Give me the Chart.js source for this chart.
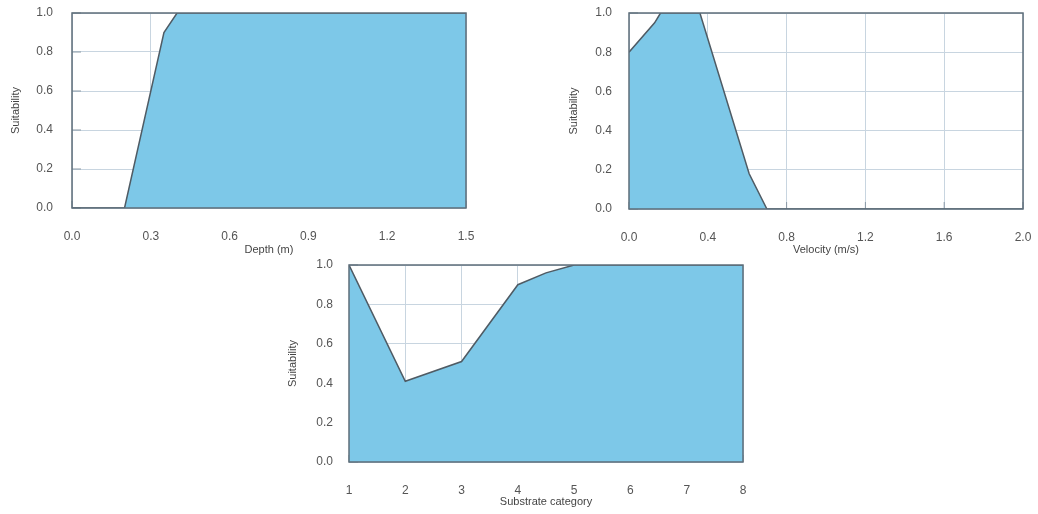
<!DOCTYPE html>
<html>
<head>
<meta charset="utf-8">
<script src="https://cdn.jsdelivr.net/npm/chart.js@4.4.0/dist/chart.umd.min.js"></script>
<style>
  body { margin: 0; background: #fff; width: 1038px; height: 514px; position: relative; overflow: hidden; }
  canvas { position: absolute; }
</style>
</head>
<body>
<canvas id="depthChart" width="480" height="262" style="left:0px;top:0px"></canvas>
<canvas id="velocityChart" width="478" height="262" style="left:560px;top:0px"></canvas>
<canvas id="substrateChart" width="480" height="264" style="left:280px;top:250px"></canvas>
<script>
// suitability curves
const depthX = [0, 0.2, 0.35, 0.4, 1.5];
const depthY = [0, 0, 0.9, 1, 1];

const velocityX = [0, 0.13, 0.16, 0.36, 0.61, 0.7, 2.0];
const velocityY = [0.8, 0.95, 1, 1, 0.18, 0, 0];

const substrateX = [1, 2, 3, 4, 4.5, 5, 8];
const substrateY = [1, 0.41, 0.51, 0.9, 0.96, 1, 1];

const yTitle = "Suitability";

Chart.defaults.font.family = "'Liberation Sans', Arial, sans-serif";
Chart.defaults.color = "#555";

const fillColor = "#7dc8e8";
const lineColor = "#4f5b64";
const gridColor = "#c8d5e0";
const frameColor = "#5e6e7a";

// box round the plot and short inner tick marks
const frame = {
  id: "frame",
  beforeDatasetsDraw(chart) {
    const { ctx, chartArea: a, scales } = chart;
    ctx.save();
    ctx.strokeStyle = "#8a99a5";
    ctx.lineWidth = 1;
    ctx.beginPath();
    scales.y.ticks.forEach(t => {
      const py = scales.y.getPixelForValue(t.value);
      ctx.moveTo(a.left, py);
      ctx.lineTo(a.left + 9, py);
    });
    scales.x.ticks.forEach(t => {
      const px = scales.x.getPixelForValue(t.value);
      ctx.moveTo(px, a.bottom);
      ctx.lineTo(px, a.bottom - 7);
    });
    ctx.stroke();
    ctx.restore();
  },
  afterDatasetsDraw(chart) {
    const { ctx, chartArea: a } = chart;
    ctx.save();
    ctx.strokeStyle = frameColor;
    ctx.lineWidth = 1.5;
    ctx.strokeRect(a.left, a.top, a.right - a.left, a.bottom - a.top);
    ctx.restore();
  }
};

function crearGrafica(id, xs, ys, cfg) {
  const puntos = xs.map((x, i) => ({ x: x, y: ys[i] }));
  return new Chart(document.getElementById(id), {
    type: "line",
    data: {
      datasets: [{
        data: puntos,
        borderColor: lineColor,
        borderWidth: 1.5,
        backgroundColor: fillColor,
        fill: "origin",
        pointRadius: 0,
        tension: 0
      }]
    },
    options: {
      responsive: false,
      animation: false,
      devicePixelRatio: 1,
      layout: { padding: cfg.padding },
      plugins: { legend: { display: false }, tooltip: { enabled: false } },
      scales: {
        x: {
          type: "linear",
          min: cfg.xMin,
          max: cfg.xMax,
          afterFit: s => { s.height = cfg.xHeight; s.paddingLeft = 0; s.paddingRight = 0; },
          afterBuildTicks: s => {
            s.ticks = [];
            for (let v = cfg.xMin; v <= cfg.xMax + 1e-9; v += cfg.xStep) s.ticks.push({ value: v });
          },
          grid: { color: gridColor, drawTicks: false },
          border: { display: false },
          ticks: {
            padding: 21,
            font: { size: 12 },
            maxRotation: 0,
            callback: v => cfg.xDecimals ? Number(v).toFixed(cfg.xDecimals) : String(Math.round(v))
          },
          title: {
            display: true,
            text: cfg.xTitle,
            color: "#444",
            font: { size: 11, lineHeight: 1 },
            padding: { top: 0, bottom: cfg.xTitlePad }
          }
        },
        y: {
          type: "linear",
          min: 0,
          max: 1,
          afterFit: s => { s.width = cfg.yWidth; s.paddingTop = 0; s.paddingBottom = 0; },
          grid: { color: gridColor, drawTicks: false },
          border: { display: false },
          ticks: {
            stepSize: 0.2,
            padding: cfg.yTickPad,
            font: { size: 12 },
            callback: v => Number(v).toFixed(1)
          },
          title: {
            display: true,
            text: yTitle,
            color: "#444",
            font: { size: 11, lineHeight: 1 },
            padding: { top: cfg.yTitlePad, bottom: 0 }
          }
        }
      }
    },
    plugins: [frame]
  });
}

crearGrafica("depthChart", depthX, depthY, {
  padding: { top: 13, right: 14, left: 0, bottom: 0 },
  xMin: 0, xMax: 1.5, xStep: 0.3, xDecimals: 1,
  xHeight: 54, yWidth: 72, yTickPad: 19,
  xTitle: "Depth (m)", xTitlePad: 6.5, yTitlePad: 10.5
});

crearGrafica("velocityChart", velocityX, velocityY, {
  padding: { top: 13, right: 15, left: 0, bottom: 0 },
  xMin: 0, xMax: 2.0, xStep: 0.4, xDecimals: 1,
  xHeight: 53, yWidth: 69, yTickPad: 17,
  xTitle: "Velocity (m/s)", xTitlePad: 6.5, yTitlePad: 8.5
});

crearGrafica("substrateChart", substrateX, substrateY, {
  padding: { top: 15, right: 17, left: 0, bottom: 0 },
  xMin: 1, xMax: 8, xStep: 1, xDecimals: 0,
  xHeight: 52, yWidth: 69, yTickPad: 16,
  xTitle: "Substrate category", xTitlePad: 6.5, yTitlePad: 7.5
});
</script>
</body>
</html>
